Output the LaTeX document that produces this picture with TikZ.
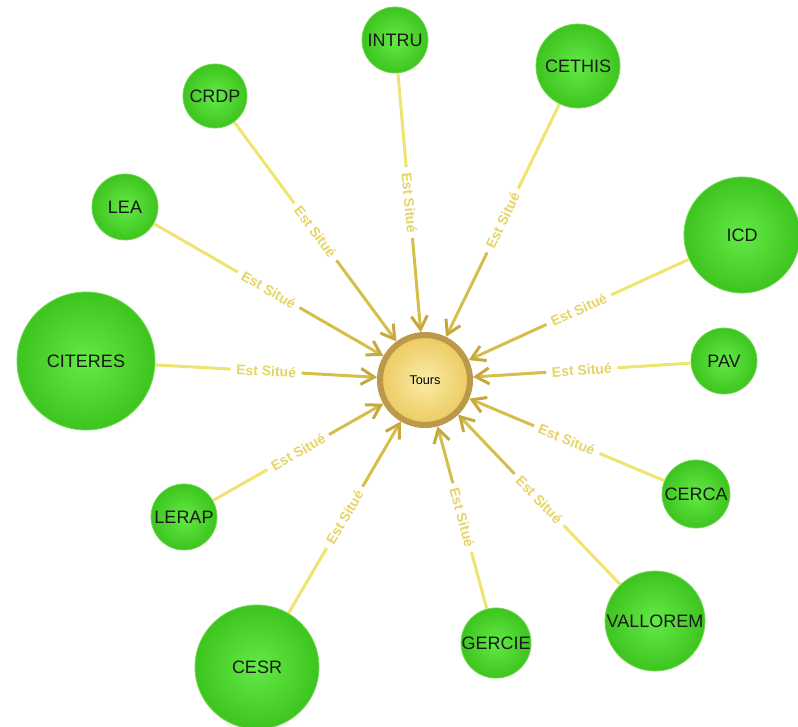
\documentclass[tikz,border=0pt]{standalone}
\usepackage{fontspec}
\setmainfont{Liberation Sans}
\usetikzlibrary{arrows.meta}
\definecolor{Leaf}{RGB}{62,196,30}
\definecolor{LeafLight}{RGB}{100,234,70}
\definecolor{LeafRim}{RGB}{112,216,82}
\definecolor{Sand}{RGB}{236,202,96}
\definecolor{SandLight}{RGB}{250,236,166}
\definecolor{Bronze}{RGB}{188,152,74}
\definecolor{Straw}{RGB}{240,228,112}
\definecolor{Mustard}{RGB}{214,190,74}
\definecolor{Olive}{RGB}{196,170,60}
\definecolor{LabelGold}{RGB}{230,212,100}

\begin{document}
\begin{tikzpicture}[x=0.75pt,y=-0.75pt,
    city/.style={circle,draw=Bronze,line width=4.5pt,inner color=SandLight,outer color=Sand,minimum size=67.5pt,inner sep=0pt,font=\fontsize{9.5}{10}\selectfont},
    unit/.style={circle,draw=LeafRim,line width=0.6pt,inner color=LeafLight,outer color=Leaf,inner sep=0pt,text=black!90,font=\fontsize{13.5}{14}\selectfont},
    situe/.style={sloped,fill=white,inner xsep=4pt,inner ysep=1pt,text=LabelGold,font=\bfseries\fontsize{10.5}{11}\selectfont},
    farlink/.style={draw=Straw,line width=2.25pt},
    nearlink/.style={draw=Mustard,line width=2.25pt,-{Straight Barb[length=10pt,width=12pt,color=Olive]}}
]
\useasboundingbox (0,0) rectangle (798,726);

% Centre
\node[city] (tours) at (425,380) {Tours};

% Laboratories
\node[unit,minimum size=49.5pt] (intru) at (395,40) {INTRU};
\node[unit,minimum size=63pt] (cethis) at (578,66) {CETHIS};
\node[unit,minimum size=48pt] (crdp) at (215,96) {CRDP};
\node[unit,minimum size=49.5pt] (lea) at (125,207) {LEA};
\node[unit,minimum size=87pt] (icd) at (742,235) {ICD};
\node[unit,minimum size=103.5pt] (citeres) at (86,361) {CITERES};
\node[unit,minimum size=49.5pt] (pav) at (724,361) {PAV};
\node[unit,minimum size=51pt] (cerca) at (696,494) {CERCA};
\node[unit,minimum size=49.5pt] (lerap) at (184,517) {LERAP};
\node[unit,minimum size=75pt] (vallorem) at (655,621) {VALLOREM};
\node[unit,minimum size=52.5pt] (gercie) at (496,643) {GERCIE};
\node[unit,minimum size=93pt] (cesr) at (257,667) {CESR};

% Links to Tours
\path (intru) -- node[situe] (intru-lab) {Est Situé} (tours);
\draw[farlink] (intru) -- (intru-lab);
\draw[nearlink] (intru-lab) -- (tours);

\path (cethis) -- node[situe] (cethis-lab) {Est Situé} (tours);
\draw[farlink] (cethis) -- (cethis-lab);
\draw[nearlink] (cethis-lab) -- (tours);

\path (crdp) -- node[situe] (crdp-lab) {Est Situé} (tours);
\draw[farlink] (crdp) -- (crdp-lab);
\draw[nearlink] (crdp-lab) -- (tours);

\path (lea) -- node[situe] (lea-lab) {Est Situé} (tours);
\draw[farlink] (lea) -- (lea-lab);
\draw[nearlink] (lea-lab) -- (tours);

\path (icd) -- node[situe] (icd-lab) {Est Situé} (tours);
\draw[farlink] (icd) -- (icd-lab);
\draw[nearlink] (icd-lab) -- (tours);

\path (citeres) -- node[situe] (citeres-lab) {Est Situé} (tours);
\draw[farlink] (citeres) -- (citeres-lab);
\draw[nearlink] (citeres-lab) -- (tours);

\path (pav) -- node[situe] (pav-lab) {Est Situé} (tours);
\draw[farlink] (pav) -- (pav-lab);
\draw[nearlink] (pav-lab) -- (tours);

\path (cerca) -- node[situe] (cerca-lab) {Est Situé} (tours);
\draw[farlink] (cerca) -- (cerca-lab);
\draw[nearlink] (cerca-lab) -- (tours);

\path (lerap) -- node[situe] (lerap-lab) {Est Situé} (tours);
\draw[farlink] (lerap) -- (lerap-lab);
\draw[nearlink] (lerap-lab) -- (tours);

\path (vallorem) -- node[situe] (vallorem-lab) {Est Situé} (tours);
\draw[farlink] (vallorem) -- (vallorem-lab);
\draw[nearlink] (vallorem-lab) -- (tours);

\path (gercie) -- node[situe] (gercie-lab) {Est Situé} (tours);
\draw[farlink] (gercie) -- (gercie-lab);
\draw[nearlink] (gercie-lab) -- (tours);

\path (cesr) -- node[situe] (cesr-lab) {Est Situé} (tours);
\draw[farlink] (cesr) -- (cesr-lab);
\draw[nearlink] (cesr-lab) -- (tours);

\end{tikzpicture}
\end{document}
